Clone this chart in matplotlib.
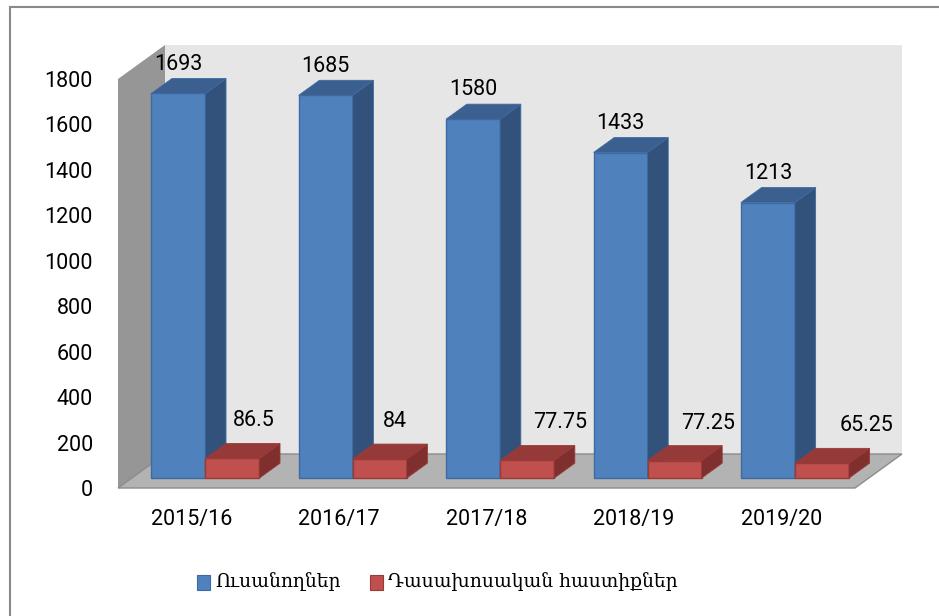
import matplotlib.pyplot as plt
from matplotlib.patches import Polygon, Rectangle

# Data
years = ['2015/16', '2016/17', '2017/18', '2018/19', '2019/20']
students = [1693, 1685, 1580, 1433, 1213]
teachers = [86.5, 84, 77.75, 77.25, 65.25]
y_ticks = list(range(0, 2000, 200))
series_names = ['Ուսանողներ', 'Դասախոսական հաստիքներ']

W, H = 939, 616
fig = plt.figure(figsize=(W / 100, H / 100), dpi=100)
fig.patch.set_facecolor('white')

# front plane of the plot box, in pixels
left, right, bottom, top = 118, 855, 488, 79
ax = fig.add_axes([left / W, (H - bottom) / H, (right - left) / W, (bottom - top) / H])
ax.set_xlim(0, len(years))
ax.set_ylim(0, 1800)
ax.set_frame_on(False)
ax.patch.set_visible(False)

# oblique depth: full depth shifts 47 px right and 34 px up
KX = 47 / ((right - left) / len(years))
KY = 34 / ((bottom - top) / 1800)


def proj(x, v, d):
    return (x + d * KX, v + d * KY)


def face(pts, color, ec=None, lw=0.0, z=1):
    poly = Polygon([proj(*p) for p in pts], closed=True, facecolor=color,
                   edgecolor=ec if ec else color, linewidth=lw, clip_on=False, zorder=z)
    ax.add_patch(poly)


n = len(years)
ymax = 1800
# walls and floor
face([(0, 0, 1), (n, 0, 1), (n, ymax, 1), (0, ymax, 1)], '#e6e6e6', z=0)
face([(0, 0, 0), (0, 0, 1), (0, ymax, 1), (0, ymax, 0)], '#969696', z=0)
face([(0, 0, 0), (n, 0, 0), (n, 0, 1), (0, 0, 1)], '#b3b3b3', ec='#8c8c8c', lw=1.0, z=0)


def box(x0, x1, v, d0, d1, front, side, topc, edge):
    face([(x0, 0, d0), (x1, 0, d0), (x1, v, d0), (x0, v, d0)], front, ec=edge, lw=1.0, z=2)
    face([(x1, 0, d0), (x1, 0, d1), (x1, v, d1), (x1, v, d0)], side, ec=edge, lw=0.6, z=2)
    face([(x0, v, d0), (x1, v, d0), (x1, v, d1), (x0, v, d1)], topc, ec=edge, lw=0.6, z=2)


bw = 54 / ((right - left) / n)   # bar width in category units
d0, d1 = 0.29, 0.73
font = 'Roboto'
fs = 15.5
red_dx = [21, 15, 33, 34, 45]    # label nudges, px

for i in range(n):
    c = i + 0.5
    box(c - bw, c, students[i], d0, d1, '#4f81bd', '#32527b', '#3b5f8f', '#3d6aa0')
    box(c, c + bw, teachers[i], d0, d1, '#c0504d', '#7f302e', '#953a38', '#9a3a37')
    bx, by = proj(c - bw / 2, students[i], d0)
    ax.annotate(f'{students[i]:g}', (bx, by), xytext=(0, 13.5), textcoords='offset points',
                ha='center', va='bottom', fontsize=fs, family=font, color='black',
                annotation_clip=False, zorder=5)
    rx, ry = proj(c + bw / 2, teachers[i], d0)
    ax.annotate(f'{teachers[i]:g}', (rx, ry), xytext=(red_dx[i] * 0.72, 19.5),
                textcoords='offset points', ha='center', va='bottom', fontsize=fs,
                family=font, color='black', annotation_clip=False, zorder=5)

ax.set_yticks(y_ticks)
ax.set_yticklabels([str(t) for t in y_ticks], fontsize=fs, family=font)
ax.set_xticks([i + 0.5 for i in range(n)])
ax.set_xticklabels(years, fontsize=fs, family=font)
ax.tick_params(axis='y', length=0, pad=18)
ax.tick_params(axis='x', length=0, pad=15)

# legend
colors = ['#4f81bd', '#c0504d']
edges = ['#3d6aa0', '#9a3a37']
sq_x = [197, 370]
tx_x = [215, 388]
for k in range(2):
    fig.add_artist(Rectangle((sq_x[k] / W, (H - 590) / H), 13 / W, 15 / H,
                             transform=fig.transFigure, facecolor=colors[k],
                             edgecolor=edges[k], linewidth=0.8))
    fig.text(tx_x[k] / W, (H - 582) / H, series_names[k], ha='left', va='center',
             fontsize=13.5, family=['DejaVu Serif', 'DejaVu Sans'], color='black')

# chart border
fig.add_artist(Rectangle((10 / W, -0.05), 1.1, (H - 7) / H + 0.05, transform=fig.transFigure,
                         facecolor='none', edgecolor='#898989', linewidth=1.5))

fig.savefig('out.png', dpi=100)
